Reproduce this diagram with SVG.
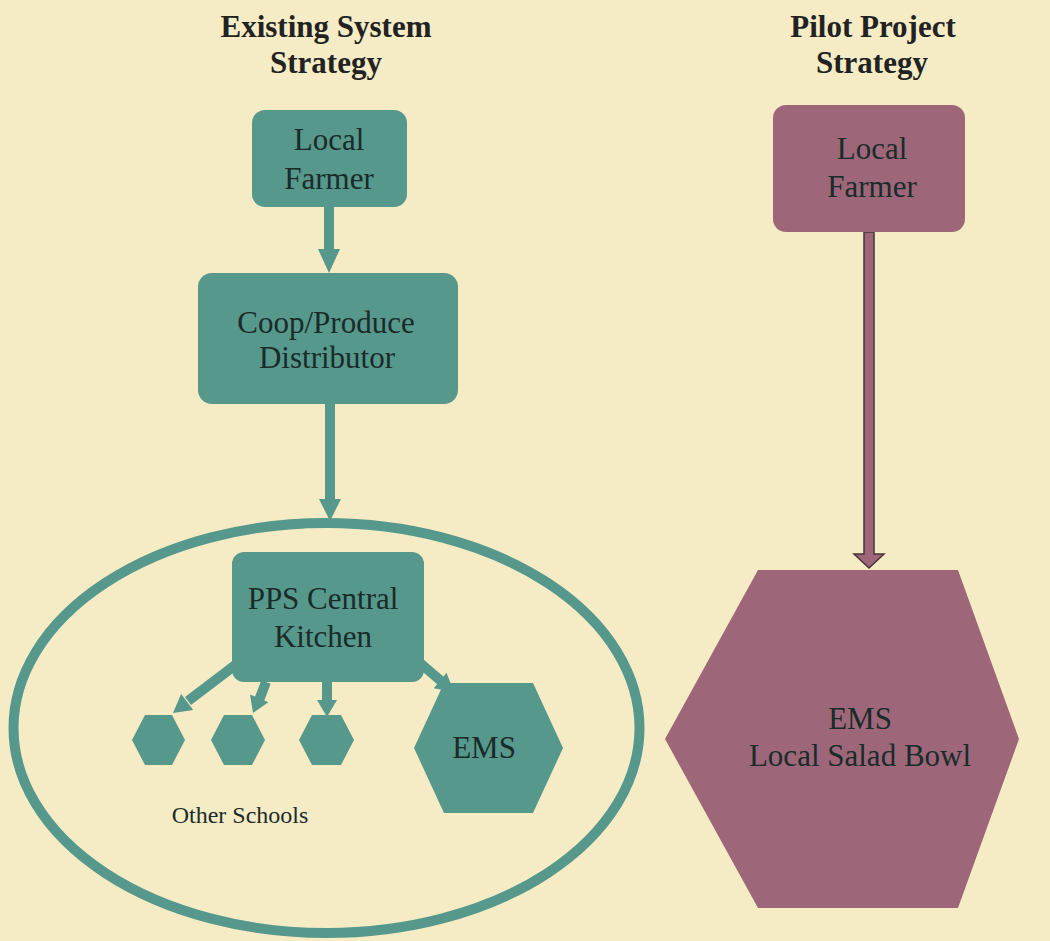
<svg xmlns="http://www.w3.org/2000/svg" width="1050" height="941" viewBox="0 0 1050 941">
<style>
text{font-family:"Liberation Serif","DejaVu Serif",serif;fill:#1a2b29;text-anchor:middle}
.title{font-weight:bold;font-size:31px;fill:#222}
.lbl{font-size:31px}
.teal{fill:#56988b}
.plum{fill:#9d6779}
.tl{stroke:#56988b;stroke-width:10;fill:none}
</style>
<rect width="1050" height="941" fill="#f5ecc5"/>
<g id="titles">
<text class="title" x="326" y="37">Existing System</text>
<text class="title" x="326" y="73">Strategy</text>
<text class="title" x="873" y="37">Pilot Project</text>
<text class="title" x="872" y="73">Strategy</text>
</g>
<g id="connectors">
<line class="tl" x1="329" y1="207" x2="329" y2="251"/>
<polygon class="teal" points="318,249 340,249 329,273"/>
<line class="tl" x1="330" y1="404" x2="330" y2="501"/>
<polygon class="teal" points="319,499 341,499 330,521"/>
<line class="tl" x1="238" y1="663" x2="188" y2="701"/>
<polygon class="teal" points="193.3,709.9 181.1,694.1 173,713"/>
<line class="tl" x1="266" y1="682" x2="259.5" y2="699"/>
<polygon class="teal" points="268.4,702.2 250,694.4 253,713"/>
<line class="tl" x1="327" y1="682" x2="327" y2="701"/>
<polygon class="teal" points="317,700 337,700 327,717"/>
<line class="tl" x1="420" y1="663" x2="441" y2="681"/>
<polygon class="teal" points="433.7,688.2 446.5,672.8 454,692"/>
<path d="M864,232 L874,232 L874,554 L884,554 L869,568 L854,554 L864,554 Z" fill="#9d6779" stroke="#4a3238" stroke-width="1.5"/>
</g>
<g id="ellipse">
<ellipse cx="326.5" cy="728" rx="313" ry="205" fill="none" stroke="#56988b" stroke-width="10"/>
</g>
<g id="local-farmer-left">
<rect class="teal" x="252" y="110" width="155" height="97" rx="13"/>
<text class="lbl" x="329" y="150">Local</text>
<text class="lbl" x="329" y="189">Farmer</text>
</g>
<g id="coop">
<rect class="teal" x="198" y="273" width="260" height="131" rx="14"/>
<text class="lbl" x="326" y="333">Coop/Produce</text>
<text class="lbl" x="327" y="368">Distributor</text>
</g>
<g id="pps">
<rect class="teal" x="232" y="552" width="192" height="130" rx="12"/>
<text class="lbl" x="323" y="609">PPS Central</text>
<text class="lbl" x="323" y="647">Kitchen</text>
</g>
<g id="school1"><polygon class="teal" points="132,740 145,715 172,715 185,740 172,765 145,765"/></g>
<g id="school2"><polygon class="teal" points="211,740 224,715 252,715 265,740 252,765 224,765"/></g>
<g id="school3"><polygon class="teal" points="299,740 312,715 341,715 354,740 341,765 312,765"/></g>
<g id="ems-left">
<polygon class="teal" points="414,748 444,683 533,683 563,748 533,813 444,813"/>
<text class="lbl" x="484" y="758">EMS</text>
</g>
<g id="other-schools-label">
<text x="240" y="823" style="font-size:24px">Other Schools</text>
</g>
<g id="local-farmer-right">
<rect class="plum" x="773" y="105" width="192" height="127" rx="13"/>
<text class="lbl" x="872" y="159">Local</text>
<text class="lbl" x="872" y="197">Farmer</text>
</g>
<g id="ems-right">
<polygon class="plum" points="665,739 758,570 958,570 1019,739 958,908 758,908"/>
<text class="lbl" x="860" y="729">EMS</text>
<text class="lbl" x="860" y="766">Local Salad Bowl</text>
</g>
</svg>
